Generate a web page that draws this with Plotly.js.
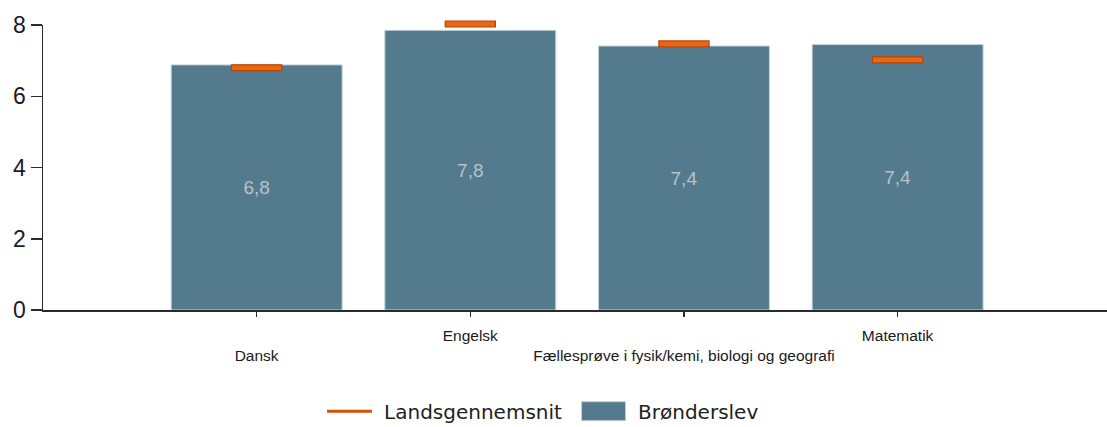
<!DOCTYPE html>
<html>
<head>
<meta charset="utf-8">
<script src="https://cdn.plot.ly/plotly-3.0.1.min.js"></script>
<style>html,body{margin:0;padding:0;background:#fff;}#chart{width:1107px;height:427px;}</style>
</head>
<body>
<div id="chart"></div>
<script>
const categories = ["Dansk", "Engelsk", "Fællesprøve i fysik/kemi, biologi og geografi", "Matematik"];
const tickLabels = ["<br>Dansk", "Engelsk", "<br>Fællesprøve i fysik/kemi, biologi og geografi", "Matematik"];
const broenderslev = [6.88, 7.85, 7.41, 7.45];
const broenderslevLabels = ["6,8", "7,8", "7,4", "7,4"];
const landsgennemsnit = [6.80, 8.03, 7.47, 7.02];
const yTicks = [0, 2, 4, 6, 8];

const markH = 0.165; // thickness of the average marker, in axis units

// plot geometry: y=0 at 310px, y=8 at 25px; the marker layer (y2) reaches 10px higher
const plotTop = 15, plotBottom = 310, yTop8 = 25;
const fullH = plotBottom - plotTop, mainH = plotBottom - yTop8;

const traces = [
  {
    type: "bar", name: "Brønderslev", x: categories, y: broenderslev,
    width: 0.8,
    marker: {color: "#537a8d", line: {color: "#c3d1da", width: 1}},
    text: broenderslevLabels, textposition: "inside", insidetextanchor: "middle",
    textangle: 0, constraintext: "none",
    textfont: {family: "Liberation Sans, Arial, sans-serif", size: 19, color: "#b7c2c9"},
    hoverinfo: "skip"
  },
  {
    type: "bar", name: "Landsgennemsnit", x: categories, xaxis: "x", yaxis: "y2",
    y: landsgennemsnit.map(() => markH),
    base: landsgennemsnit.map(v => v - markH / 2),
    width: 0.235, showlegend: false,
    marker: {color: "#ec660f", line: {color: "#bb4506", width: 1.2}},
    hoverinfo: "skip"
  },
  {
    // legend entry for the average: points separated by gaps, so no segment is drawn
    type: "scatter", mode: "lines", name: "Landsgennemsnit",
    x: categories.flatMap(c => [c, c]),
    y: landsgennemsnit.flatMap(v => [v, null]),
    connectgaps: false,
    line: {color: "#d2520b", width: 3},
    hoverinfo: "skip"
  }
];

const layout = {
  width: 1107, height: 427,
  margin: {l: 43, r: 0, t: plotTop, b: 427 - plotBottom, pad: 0},
  paper_bgcolor: "#ffffff", plot_bgcolor: "rgba(0,0,0,0)",
  showlegend: true,
  barmode: "overlay",
  xaxis: {
    type: "category", categoryorder: "array", categoryarray: categories,
    range: [-1, 3.98], anchor: "y",
    tickmode: "array", tickvals: categories, ticktext: tickLabels,
    showline: true, linecolor: "#2a2a2a", linewidth: 1.5,
    ticks: "outside", ticklen: 5, tickwidth: 1.2, tickcolor: "#2a2a2a",
    showgrid: false, zeroline: false,
    tickfont: {family: "Liberation Sans, Arial, sans-serif", size: 15.5, color: "#1a1a1a"},
    ticklabelstandoff: 6
  },
  yaxis: {
    domain: [0, mainH / fullH],
    range: [0, 8], tickmode: "array", tickvals: yTicks,
    showline: true, linecolor: "#2a2a2a", linewidth: 1.5,
    ticks: "outside", ticklen: 11, tickwidth: 1.5, tickcolor: "#2a2a2a",
    showgrid: false, zeroline: false,
    tickfont: {family: "Liberation Sans, Arial, sans-serif", size: 23, color: "#1a1a2a"},
    ticklabelstandoff: 0
  },
  yaxis2: {
    domain: [0, 1], anchor: "x",
    range: [0, 8 * fullH / mainH],
    visible: false, showgrid: false, zeroline: false, fixedrange: true
  },
  legend: {
    orientation: "h", xref: "paper", x: 0.501, xanchor: "center",
    yref: "container", y: 0.037, yanchor: "middle",
    font: {family: "DejaVu Sans, Verdana, sans-serif", size: 20, color: "#222"},
    itemwidth: 45, traceorder: "reversed",
    entrywidth: 194, entrywidthmode: "pixels",
    bgcolor: "rgba(0,0,0,0)"
  }
};

function tweakLegend(gd) {
  gd.querySelectorAll(".legend .scrollbox").forEach(s => s.removeAttribute("clip-path"));
  gd.querySelectorAll(".legend .traces").forEach(tr => {
    const txt = tr.querySelector(".legendtext");
    if (txt && !txt.dataset.tw) {
      txt.dataset.tw = "1";
      const x = parseFloat(txt.getAttribute("x") || "0");
      txt.setAttribute("x", x + 7);
      txt.querySelectorAll("tspan[x]").forEach(s => s.setAttribute("x", parseFloat(s.getAttribute("x")) + 7));
    }
    if (txt && txt.textContent.indexOf("Brønderslev") >= 0) {
      tr.querySelectorAll(".legendpoints path").forEach(p => {
        p.setAttribute("d", "M22,9.5H-22V-9.5H22Z");
      });
    }
  });
}

Plotly.newPlot("chart", traces, layout, {staticPlot: true, displayModeBar: false}).then(gd => {
  gd.on("plotly_afterplot", () => tweakLegend(gd));
  tweakLegend(gd);
  setTimeout(() => tweakLegend(gd), 50);
  setTimeout(() => tweakLegend(gd), 300);
});
</script>
</body>
</html>
